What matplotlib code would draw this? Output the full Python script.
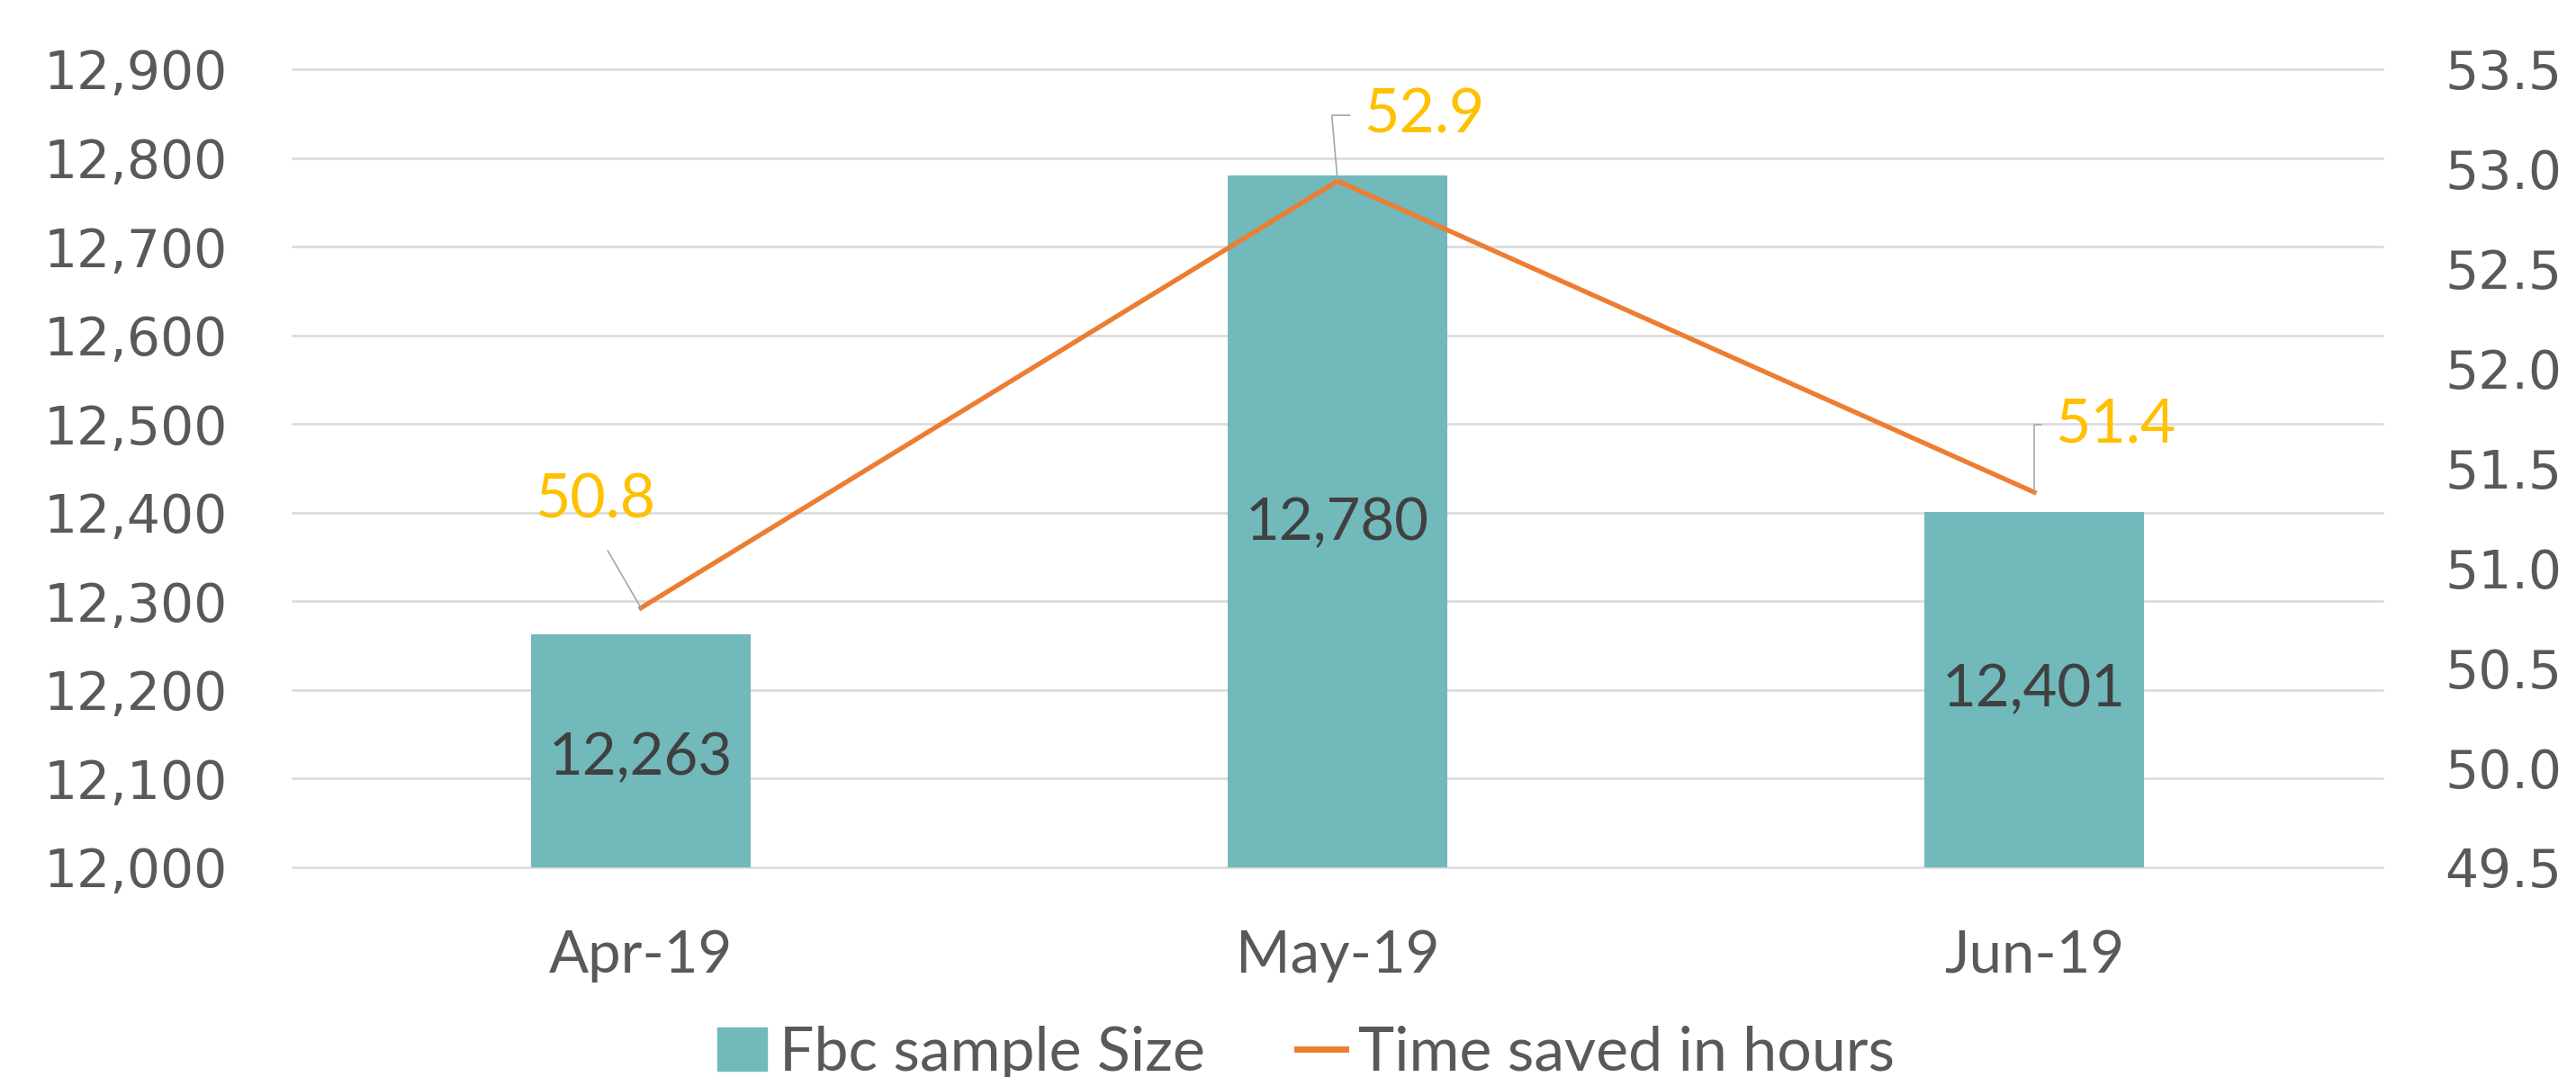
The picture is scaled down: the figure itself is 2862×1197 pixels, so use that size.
import matplotlib
matplotlib.use('Agg')
import matplotlib.pyplot as plt
import matplotlib.ticker as mticker
import numpy as np

months = ['Apr-19', 'May-19', 'Jun-19']
sample_size = [12263, 12780, 12401]
hours_saved = [50.8, 52.94, 51.38]

bar_col = '#71B9BB'
line_col = '#ED7D31'
lab_col = '#FFC000'
grid_col = '#D9D9D9'
txt_col = '#595959'
narrow = ['Lato', 'DejaVu Sans']

fig = plt.figure(figsize=(28.62, 11.97), dpi=100)
ax = fig.add_axes([0.1136, 0.1947, 0.8113, 0.741])
ax2 = ax.twinx()

x = np.arange(len(months))
ax.bar(x, sample_size, width=0.316, color=bar_col, zorder=2)
ax.set_ylim(12000, 12900)
ax.set_xlim(-0.5, len(months) - 0.5)
ax.yaxis.set_major_locator(mticker.MultipleLocator(100))
ax.yaxis.set_major_formatter(mticker.FuncFormatter(lambda v, p: f'{v:,.0f}'))
ax.grid(axis='y', color=grid_col, lw=1.8, zorder=0)
ax.set_axisbelow(True)
for gl in ax.get_ygridlines():
    gl.set_clip_on(False)

ax2.plot(x, hours_saved, color=line_col, lw=3.8, zorder=3)
ax2.set_ylim(49.5, 53.5)
ax2.yaxis.set_major_locator(mticker.MultipleLocator(0.5))
ax2.yaxis.set_major_formatter(mticker.FormatStrFormatter('%.1f'))

for a in (ax, ax2):
    for s in a.spines.values():
        s.set_visible(False)
    a.tick_params(length=0, labelsize=42, labelcolor=txt_col)
ax.tick_params(axis='y', pad=52)
ax2.tick_params(axis='y', pad=50)
ax.set_xticks(x)
ax.set_xticklabels(months, family=narrow, fontsize=47, color=txt_col)
ax.tick_params(axis='x', pad=50)

# bar value labels (placed inside the bars)
bar_lab_y = [12123, 12388, 12200]
for i, v in enumerate(sample_size):
    ax.text(i, bar_lab_y[i], f'{v:,}', ha='center', va='center',
            family=narrow, fontsize=47, color='#404040', zorder=4)

# line labels with leader lines
offs = [(-51, 119), (96, 73), (90, 75)]
relp = [(0.5, 0.0), (0.0, 0.5), (0.0, 0.5)]
conn = ['arc3', 'angle,angleA=180,angleB=95,rad=0', 'angle,angleA=180,angleB=90,rad=0']
shr = [18, 9, 9]
for i, v in enumerate(hours_saved):
    ax2.annotate(f'{v:.1f}', xy=(i, v), xytext=offs[i], textcoords='offset pixels',
                 ha='center', va='center', family=narrow, fontsize=49, color=lab_col,
                 arrowprops=dict(arrowstyle='-', color='#A6A6A6', lw=1.2,
                                 relpos=relp[i], shrinkA=shr[i], shrinkB=0,
                                 connectionstyle=conn[i]), zorder=5)

h1 = plt.Rectangle((0, 0), 1, 1, color=bar_col)
h2 = plt.Line2D([], [], color=line_col, lw=5)
fig.legend([h1, h2], ['Fbc sample Size', 'Time saved in hours'], loc='center',
           bbox_to_anchor=(0.507, 0.022), ncol=2, frameon=False,
           prop={'family': narrow, 'size': 49}, labelcolor=txt_col,
           handlelength=0.8, handleheight=0.7, handletextpad=0.2, columnspacing=1.5)

fig.savefig('out.png', dpi=100)
